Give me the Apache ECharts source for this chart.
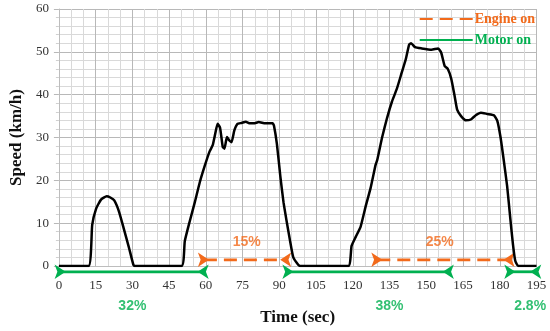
<!DOCTYPE html>
<html>
<head>
<meta charset="utf-8">
<script src="https://cdn.jsdelivr.net/npm/echarts@6/dist/echarts.min.js"></script>
<style>html,body{margin:0;padding:0;background:#fff}#c{width:550px;height:331px}</style>
</head>
<body>
<div id="c"></div>
<script>
// Speed profile (time in sec, speed in km/h)
var timeSec = [0,12.1,13.6,15.2,17.2,19.5,21,22.6,24.6,26.6,28.6,30.4,31,50.1,51.4,53.4,55.5,57.5,59.5,61.5,62.8,63.8,64.8,65.8,66.9,67.6,68.6,69.6,70.5,71.6,72.9,74.6,76.3,78,79.6,81.6,84.3,87.3,87.8,89,90.4,91.7,93,94.4,95.7,97.7,98.5,118.2,119.5,121.2,123.2,125.2,127.3,129.3,130,132,134,136,138,140,141.6,143,143.8,145.4,148.1,152.1,154.8,156.1,157.5,158.8,160.2,161.5,162.6,164.2,166.2,168.2,170.2,172.3,174.9,177.6,179,180.3,181.6,183,184.3,185.4,186.3,187.5,195];
var speedKmh = [0,0,9.6,13.4,15.5,16.3,16,15.3,12.6,8.5,4.3,0.3,0,0,5.8,10.4,14.9,19.5,23.3,26.7,28.2,30.8,33.2,32.3,27.8,27.4,30.1,29.3,28.9,31.6,33.2,33.4,33.7,33.3,33.3,33.6,33.3,33.3,32.8,28.5,21,14.9,10.4,5.8,2,0.3,0,0,4.7,6.8,9.2,13.8,18.3,23.6,24.8,30.1,34.6,38.4,41.4,45.2,48.2,51.7,52,51.1,50.8,50.5,50.8,49.8,46.7,46,43.7,39.9,36.5,35,34,34.2,35.2,35.8,35.5,35.2,33.9,30.1,24.8,18.7,11.1,5,1.3,0,0];

// Engine-on intervals [start, end] and their share labels
var engineSpans = [[59.2, 92.4], [130, 183.6]];
var engineLabels = ['15%', '25%'];
var engineLabelTimes = [76.7, 155.5];
var engineArrowLevel = 1.45;
var engineLabelLevel = 5.6;

// Motor-on intervals and shares
var motorSpans = [[0.7, 58.7], [93.7, 158.8], [184.3, 194.5]];
var motorLabels = ['32%', '38%', '2.8%'];
var motorLabelTimes = [30, 135, 192.4];
var motorArrowLevel = -1.35;
var motorLabelLevel = -9.3;

var xTicks = {min: 0, max: 195, interval: 15};
var yTicks = {min: 0, max: 60, interval: 10};

var ORANGE = '#f26a1b';
var GREEN = '#00b050';

var curve = timeSec.map(function (t, i) { return [t, speedKmh[i]]; });

function arrowSeries(name, span, level, color, dash) {
  return {
    name: name, type: 'line', clip: false, silent: true, z: 4,
    symbol: 'none', showSymbol: true, symbolSize: [11, 11],
    itemStyle: {color: color},
    lineStyle: {color: color, width: 2.8, type: dash},
    data: [
      {value: [span[0], level], symbol: 'arrow', symbolRotate: -90, symbolOffset: [5, 0]},
      {value: [span[1], level], symbol: 'arrow', symbolRotate: 90, symbolOffset: [-5, 0]}
    ]
  };
}
function labelPoints(times, labels, level) {
  return times.map(function (t, i) { return {value: [t, level], name: labels[i]}; });
}

var serif = '"Liberation Serif", "Times New Roman", serif';
var sans = '"Liberation Sans", Arial, sans-serif';

var series = [
  {
    name: 'Speed', type: 'line', data: curve, symbol: 'none', smooth: 0.15,
    lineStyle: {color: '#000', width: 2.5}, z: 5
  }
];
engineSpans.forEach(function (s) { series.push(arrowSeries('Engine on', s, engineArrowLevel, ORANGE, [13, 7])); });
motorSpans.forEach(function (s) { series.push(arrowSeries('Motor on', s, motorArrowLevel, GREEN, 'solid')); });
series.push({
  name: 'engineShare', type: 'scatter', symbolSize: 0, clip: false, silent: true,
  data: labelPoints(engineLabelTimes, engineLabels, engineLabelLevel),
  label: {show: true, position: 'inside', formatter: '{b}', color: ORANGE, fontFamily: sans, fontWeight: 'bold', fontSize: 14}
});
series.push({
  name: 'motorShare', type: 'scatter', symbolSize: 0, clip: false, silent: true,
  data: labelPoints(motorLabelTimes, motorLabels, motorLabelLevel),
  label: {show: true, position: 'inside', formatter: '{b}', color: GREEN, fontFamily: sans, fontWeight: 'bold', fontSize: 14}
});

var chart = echarts.init(document.getElementById('c'), null, {renderer: 'canvas'});
chart.setOption({
  animation: false,
  backgroundColor: '#fff',
  grid: {left: 52, right: 13.5, top: 9, bottom: 59, containLabel: false},
  legend: {
    orient: 'vertical', right: 10, top: 7, itemWidth: 53, itemHeight: 14, itemGap: 7,
    itemStyle: {opacity: 0},
    data: [
      {name: 'Engine on', textStyle: {color: ORANGE}},
      {name: 'Motor on', textStyle: {color: GREEN}}
    ],
    textStyle: {fontFamily: serif, fontWeight: 'bold', fontSize: 14, padding: [0, 0, 0, -3]}
  },
  xAxis: {
    type: 'value', min: xTicks.min, max: xTicks.max, interval: xTicks.interval,
    name: 'Time (sec)', nameLocation: 'middle', nameGap: 43,
    nameTextStyle: {fontFamily: serif, fontWeight: 'bold', fontSize: 17, color: '#111'},
    axisLine: {show: true, lineStyle: {color: '#bdbdbd'}},
    axisTick: {show: false},
    minorTick: {show: false, splitNumber: 3},
    axisLabel: {fontFamily: serif, fontSize: 13, color: '#333', margin: 13},
    splitLine: {show: true, lineStyle: {color: '#b8b8b8', width: 1}},
    minorSplitLine: {show: true, lineStyle: {color: '#d9d9d9', width: 1}}
  },
  yAxis: {
    type: 'value', min: yTicks.min, max: yTicks.max, interval: yTicks.interval,
    name: 'Speed (km/h)', nameLocation: 'middle', nameGap: 30,
    nameTextStyle: {fontFamily: serif, fontWeight: 'bold', fontSize: 17, color: '#111'},
    axisLine: {show: true, lineStyle: {color: '#bdbdbd'}},
    axisTick: {show: true, length: 5, lineStyle: {color: '#b8b8b8'}},
    minorTick: {show: true, splitNumber: 5, length: 3, lineStyle: {color: '#d0d0d0'}},
    axisLabel: {fontFamily: serif, fontSize: 13, color: '#333', margin: 10},
    splitLine: {show: true, lineStyle: {color: '#b8b8b8', width: 1}},
    minorSplitLine: {show: true, lineStyle: {color: '#d9d9d9', width: 1}}
  },
  series: series
});
</script>
</body>
</html>
